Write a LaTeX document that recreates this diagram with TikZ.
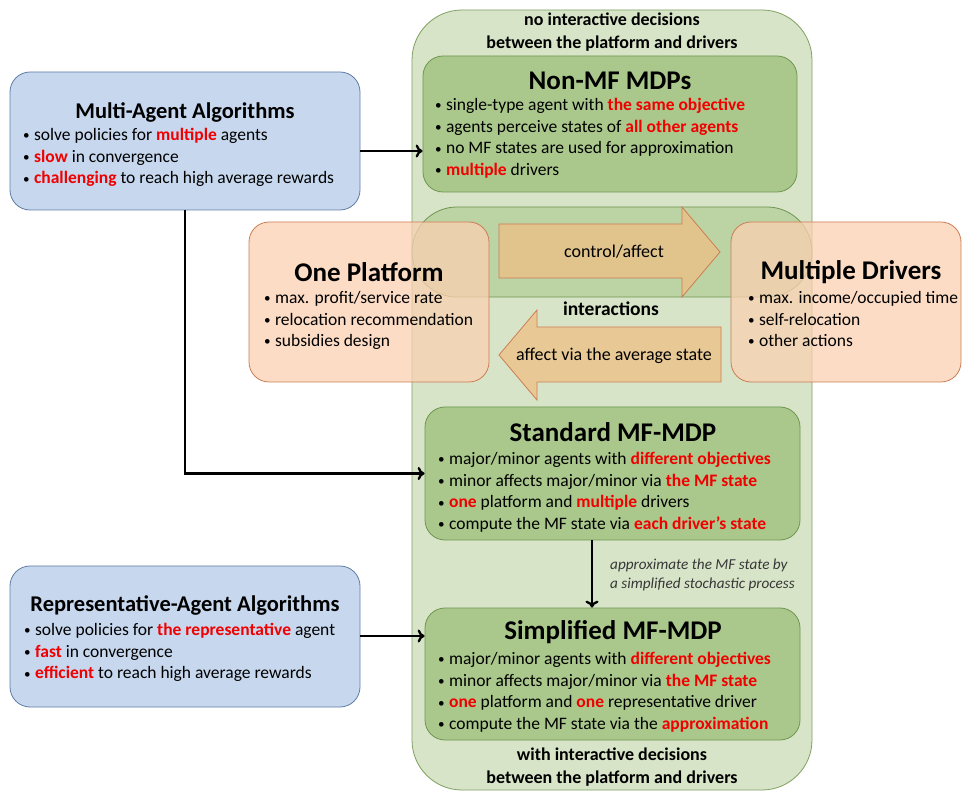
\documentclass[tikz,border=0pt]{standalone}
\usepackage{fontspec}
\setmainfont{Carlito}
\usetikzlibrary{positioning, arrows.meta}

\definecolor{outergreen}{RGB}{215,228,200}
\definecolor{outerline}{RGB}{125,160,95}
\definecolor{innergreen}{RGB}{170,200,140}
\definecolor{innerline}{RGB}{110,150,80}
\definecolor{bluefill}{RGB}{198,215,238}
\definecolor{blueline}{RGB}{95,125,165}
\definecolor{peach}{RGB}{251,208,178}
\definecolor{peachline}{RGB}{205,125,85}
\definecolor{arrowfill}{RGB}{240,190,130}
\definecolor{hlred}{RGB}{240,0,0}
\definecolor{notegray}{RGB}{55,55,55}

\newcommand{\hilite}[1]{\textcolor{hlred}{\textbf{#1}}}
\newcommand{\bul}{\raisebox{0.05em}{\scalebox{0.75}{•}}\hspace{0.25em}}

\begin{document}
\begin{tikzpicture}[x=1pt,y=-1pt,
    bluebox/.style={draw=blueline,fill=bluefill,rounded corners=20pt,line width=0.8pt},
    greenbox/.style={draw=innerline,fill=innergreen,rounded corners=20pt,line width=0.8pt},
    peachbox/.style={draw=peachline,fill=peach,fill opacity=0.75,rounded corners=20pt,line width=0.8pt},
    blockarrow/.style={draw=peachline,fill=arrowfill,fill opacity=0.7,line width=0.8pt},
    algtitle/.style={font=\fontsize{22.5}{26}\selectfont\bfseries,inner sep=0pt},
    title/.style={font=\fontsize{27}{30}\selectfont\bfseries,inner sep=0pt},
    bullets/.style={font=\fontsize{17.5}{21.7}\selectfont,align=left,inner sep=0pt,anchor=north west},
    caption/.style={font=\fontsize{18}{22.5}\selectfont\bfseries,align=center,inner sep=0pt},
    arrowtext/.style={font=\fontsize{18}{20}\selectfont,inner sep=0pt},
    conn/.style={draw=black,line width=2.3pt,-{To[length=7pt,width=13pt]}}]
  \useasboundingbox (0,0) rectangle (962,791);

  % outer green panel
  \draw[draw=outerline,fill=outergreen,rounded corners=50pt,line width=0.8pt] (412,10) rectangle (812,790);

  % green MDP boxes
  \node[greenbox,minimum width=374pt,minimum height=136pt] (nmbox) at (610,124) {};
  \node[greenbox,minimum width=375pt,minimum height=133pt] (stdbox) at (612.5,473.5) {};
  \node[greenbox,minimum width=375pt,minimum height=132pt] (smbox) at (612.5,674) {};

  % interaction zone
  \draw[draw=innerline,fill=innergreen,fill opacity=0.6,rounded corners=45pt,line width=0.8pt] (412,207) rectangle (812,297);

  % platform and drivers
  \node[peachbox,minimum width=240pt,minimum height=160pt] (pfbox) at (369,302) {};
  \node[peachbox,minimum width=230pt,minimum height=160pt] (drbox) at (846,302) {};

  % algorithm boxes
  \node[bluebox,minimum width=350pt,minimum height=138pt] (mabox) at (185,141) {};
  \node[bluebox,minimum width=350pt,minimum height=141pt] (rabox) at (185,636.5) {};

  % block arrows
  \draw[blockarrow] (499,224) -- (682,224) -- (682,207) -- (720,252) -- (682,297) -- (682,278) -- (499,278) -- cycle;
  \draw[blockarrow] (499,355) -- (537,310) -- (537,327) -- (721,327) -- (721,382) -- (537,382) -- (537,400) -- cycle;
  \node[arrowtext] (ctrl) at (614,252) {control/affect};
  \node[arrowtext] (avg) at (614,356) {affect via the average state};
  \node[font=\fontsize{19.5}{22}\selectfont\bfseries,inner sep=0pt] (inter) at (611,309) {interactions};

  % captions
  \node[caption] (topcap) at (612,32) {no interactive decisions\\between the platform and drivers};
  \node[caption] (botcap) at (612,767) {with interactive decisions\\between the platform and drivers};

  % titles
  \node[algtitle] (matitle) at (185,112) {Multi-Agent Algorithms};
  \node[algtitle] (ratitle) at (185,605) {Representative-Agent Algorithms};
  \node[title] (nmtitle) at (610,81) {Non-MF MDPs};
  \node[title] (stdtitle) at (613,432) {Standard MF-MDP};
  \node[title] (smtitle) at (613,632) {Simplified MF-MDP};
  \node[title] (pftitle) at (369,272) {One Platform};
  \node[title] (drtitle) at (851,272) {Multiple Drivers};

  % bullet lists
  \node[bullets] (mabul) at (23,128) {\bul solve policies for \hilite{multiple} agents\\\bul \hilite{slow} in convergence\\\bul \hilite{challenging} to reach high average rewards};
  \node[bullets] (rabul) at (24,623) {\bul solve policies for \hilite{the representative} agent\\\bul \hilite{fast} in convergence\\\bul \hilite{efficient} to reach high average rewards};
  \node[bullets] (nmbul) at (435,98) {\bul single-type agent with \hilite{the same objective}\\\bul agents perceive states of \hilite{all other agents}\\\bul no MF states are used for approximation\\\bul \hilite{multiple} drivers};
  \node[bullets] (stdbul) at (438,452) {\bul major/minor agents with \hilite{different objectives}\\\bul minor affects major/minor via \hilite{the MF state}\\\bul \hilite{one} platform and \hilite{multiple} drivers\\\bul compute the MF state via \hilite{each driver’s state}};
  \node[bullets] (smbul) at (438,652) {\bul major/minor agents with \hilite{different objectives}\\\bul minor affects major/minor via \hilite{the MF state}\\\bul \hilite{one} platform and \hilite{one} representative driver\\\bul compute the MF state via the \hilite{approximation}};
  \node[bullets] (pfbul) at (264,291) {\bul max. profit/service rate\\\bul relocation recommendation\\\bul subsidies design};
  \node[bullets] (drbul) at (748,291) {\bul max. income/occupied time\\\bul self-relocation\\\bul other actions};

  % approximation note
  \node[font=\fontsize{15.2}{18.5}\selectfont\itshape,text=notegray,align=left,anchor=west,inner sep=0pt] (note) at (610,575) {approximate the MF state by\\a simplified stochastic process};

  % connectors
  \coordinate (maout) at (360,151);
  \coordinate (madown) at (185,210);
  \coordinate (raout) at (360,636);
  \coordinate (stdout) at (592,540);
  \draw[conn] (maout) -- (maout -| nmbox.west);
  \draw[conn] (madown) |- (stdbox.west);
  \draw[conn] (raout) -- (raout -| smbox.west);
  \draw[conn] (stdout) -- (stdout |- smbox.north);
\end{tikzpicture}
\end{document}
